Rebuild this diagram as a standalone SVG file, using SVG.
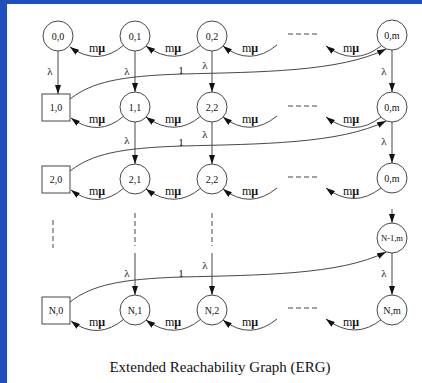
<svg xmlns="http://www.w3.org/2000/svg" width="422" height="383" viewBox="0 0 422 383">
  <style>
    .node circle, .node rect { fill: #fff; stroke: #333; stroke-width: 0.9; }
    .lbl { font-family: "Liberation Serif", "Times New Roman", serif; font-size: 10px; fill: #111; text-anchor: middle; }
    .edge { fill: none; stroke: #333; stroke-width: 0.9; }
    .arr { marker-end: url(#ah); }
    .dash { fill: none; stroke: #333; stroke-width: 0.9; stroke-dasharray: 5 3; }
    .elbl { font-family: "Liberation Serif", "Times New Roman", serif; font-size: 11px; fill: #111; text-anchor: middle; }
    .rate { font-family: "Liberation Serif", "Times New Roman", serif; font-size: 12px; fill: #111; text-anchor: middle; }
    .mu { font-weight: bold; }
  </style>
  <defs>
    <marker id="ah" viewBox="0 0 9 6" refX="9" refY="3" markerWidth="9" markerHeight="6" markerUnits="userSpaceOnUse" orient="auto">
      <path d="M0,0 L9,3 L0,6 z" fill="#111"/>
    </marker>
  </defs>

  <!-- slide frame -->
  <rect x="0" y="0" width="422" height="383" fill="#1f4fbf"/>
  <rect x="7" y="4" width="415" height="379" fill="#fff"/>

  <!-- connectors -->
  <g id="edges">
    <!-- vertical lambda transitions -->
    <line class="edge arr" x1="58" y1="51" x2="58" y2="94"/>
    <line class="edge arr" x1="135" y1="51" x2="135" y2="92"/>
    <line class="edge arr" x1="212" y1="51" x2="212" y2="92"/>
    <line class="edge arr" x1="392" y1="50" x2="392" y2="92"/>
    <line class="edge arr" x1="135" y1="122" x2="135" y2="164"/>
    <line class="edge arr" x1="212" y1="122" x2="212" y2="164"/>
    <line class="edge arr" x1="392" y1="122" x2="392" y2="163"/>
    <line class="edge arr" x1="392" y1="209" x2="392" y2="223"/>
    <line class="edge arr" x1="135" y1="253" x2="135" y2="295"/>
    <line class="edge arr" x1="212" y1="253" x2="212" y2="295"/>
    <line class="edge arr" x1="392" y1="253" x2="392" y2="295"/>

    <!-- elided rows -->
    <line class="dash" x1="53" y1="220" x2="53" y2="248"/>
    <line class="dash" x1="135" y1="213" x2="135" y2="246"/>
    <line class="dash" x1="212" y1="213" x2="212" y2="246"/>

    <!-- elided columns -->
    <line class="dash" x1="288" y1="34" x2="317" y2="34"/>
    <line class="dash" x1="288" y1="106" x2="317" y2="106"/>
    <line class="dash" x1="288" y1="177" x2="317" y2="177"/>
    <line class="dash" x1="288" y1="308" x2="317" y2="308"/>

    <!-- service arcs, row 0 -->
    <path class="edge arr" d="M124,45 Q98,67 70,47"/>
    <path class="edge arr" d="M201,45 Q175,67 146,46"/>
    <path class="edge arr" d="M277,45 Q250,67 223,46"/>
    <path class="edge arr" d="M381,46 Q354,67 326,46"/>
    <!-- service arcs, row 1 -->
    <path class="edge arr" d="M124,116 Q98,138 71,118"/>
    <path class="edge arr" d="M201,116 Q175,138 146,117"/>
    <path class="edge arr" d="M277,116 Q250,138 223,117"/>
    <path class="edge arr" d="M381,117 Q354,138 326,117"/>
    <!-- service arcs, row 2 -->
    <path class="edge arr" d="M124,188 Q98,210 71,190"/>
    <path class="edge arr" d="M201,188 Q175,210 146,189"/>
    <path class="edge arr" d="M277,188 Q250,210 223,189"/>
    <path class="edge arr" d="M381,188 Q354,209 326,188"/>
    <!-- service arcs, row N -->
    <path class="edge arr" d="M124,319 Q98,341 71,321"/>
    <path class="edge arr" d="M201,319 Q175,341 146,320"/>
    <path class="edge arr" d="M277,319 Q250,341 223,320"/>
    <path class="edge arr" d="M382,319 Q355,341 326,319"/>

    <!-- reset transitions labelled 1 -->
    <path class="edge arr" d="M70,99 C92,82 120,76 182,74 C260,72 340,72 386,49"/>
    <path class="edge arr" d="M70,171 C92,154 120,148 182,146 C260,144 340,144 386,121"/>
    <path class="edge arr" d="M70,302 C92,285 120,279 182,277 C260,275 340,275 386,252"/>

    <!-- edge labels -->
    <text class="elbl" x="50" y="75">λ</text>
    <text class="elbl" x="127" y="75">λ</text>
    <text class="elbl" x="205" y="69">λ</text>
    <text class="elbl" x="384" y="75">λ</text>
    <text class="elbl" x="127" y="144">λ</text>
    <text class="elbl" x="205" y="138">λ</text>
    <text class="elbl" x="384" y="145">λ</text>
    <text class="elbl" x="127" y="277">λ</text>
    <text class="elbl" x="205" y="269">λ</text>
    <text class="elbl" x="384" y="277">λ</text>
    <text class="elbl" x="181" y="74">1</text>
    <text class="elbl" x="181" y="146">1</text>
    <text class="elbl" x="181" y="277">1</text>

    <text class="rate" x="97" y="52">m<tspan class="mu">μ</tspan></text>
    <text class="rate" x="173" y="52">m<tspan class="mu">μ</tspan></text>
    <text class="rate" x="250" y="52">m<tspan class="mu">μ</tspan></text>
    <text class="rate" x="351" y="52">m<tspan class="mu">μ</tspan></text>
    <text class="rate" x="97" y="123">m<tspan class="mu">μ</tspan></text>
    <text class="rate" x="173" y="123">m<tspan class="mu">μ</tspan></text>
    <text class="rate" x="250" y="123">m<tspan class="mu">μ</tspan></text>
    <text class="rate" x="351" y="123">m<tspan class="mu">μ</tspan></text>
    <text class="rate" x="97" y="195">m<tspan class="mu">μ</tspan></text>
    <text class="rate" x="173" y="195">m<tspan class="mu">μ</tspan></text>
    <text class="rate" x="250" y="195">m<tspan class="mu">μ</tspan></text>
    <text class="rate" x="351" y="195">m<tspan class="mu">μ</tspan></text>
    <text class="rate" x="97" y="326">m<tspan class="mu">μ</tspan></text>
    <text class="rate" x="173" y="326">m<tspan class="mu">μ</tspan></text>
    <text class="rate" x="250" y="326">m<tspan class="mu">μ</tspan></text>
    <text class="rate" x="351" y="326">m<tspan class="mu">μ</tspan></text>
  </g>

  <!-- row 0 -->
  <g id="n00" class="node"><circle cx="58" cy="36" r="15"/><text class="lbl" x="58" y="40">0,0</text></g>
  <g id="n01" class="node"><circle cx="135" cy="36" r="15"/><text class="lbl" x="135" y="40">0,1</text></g>
  <g id="n02" class="node"><circle cx="212" cy="36" r="15"/><text class="lbl" x="212" y="40">0,2</text></g>
  <g id="n0m" class="node"><circle cx="392" cy="35" r="15"/><text class="lbl" x="392" y="39">0,m</text></g>
  <!-- row 1 -->
  <g id="n10" class="node"><rect x="42" y="94" width="28" height="27"/><text class="lbl" x="56" y="111">1,0</text></g>
  <g id="n11" class="node"><circle cx="135" cy="107" r="15"/><text class="lbl" x="135" y="111">1,1</text></g>
  <g id="n12" class="node"><circle cx="212" cy="107" r="15"/><text class="lbl" x="212" y="111">2,2</text></g>
  <g id="n1m" class="node"><circle cx="392" cy="107" r="15"/><text class="lbl" x="392" y="111">0,m</text></g>
  <!-- row 2 -->
  <g id="n20" class="node"><rect x="42" y="166" width="28" height="27"/><text class="lbl" x="56" y="183">2,0</text></g>
  <g id="n21" class="node"><circle cx="135" cy="179" r="15"/><text class="lbl" x="135" y="183">2,1</text></g>
  <g id="n22" class="node"><circle cx="212" cy="179" r="15"/><text class="lbl" x="212" y="183">2,2</text></g>
  <g id="n2m" class="node"><circle cx="392" cy="178" r="15"/><text class="lbl" x="392" y="182">0,m</text></g>
  <!-- row N-1 -->
  <g id="nN1m" class="node"><circle cx="392" cy="238" r="15"/><text class="lbl" x="392" y="241" style="font-size:8.5px">N-1,m</text></g>
  <!-- row N -->
  <g id="nN0" class="node"><rect x="42" y="297" width="28" height="27"/><text class="lbl" x="56" y="314">N,0</text></g>
  <g id="nN1" class="node"><circle cx="135" cy="310" r="15"/><text class="lbl" x="135" y="314">N,1</text></g>
  <g id="nN2" class="node"><circle cx="212" cy="310" r="15"/><text class="lbl" x="212" y="314">N,2</text></g>
  <g id="nNm" class="node"><circle cx="392" cy="310" r="15"/><text class="lbl" x="392" y="314">N,m</text></g>

  <text x="220" y="372" style="font-family:'Liberation Serif','Times New Roman',serif;font-size:15px;fill:#111;text-anchor:middle">Extended Reachability Graph (ERG)</text>
</svg>
